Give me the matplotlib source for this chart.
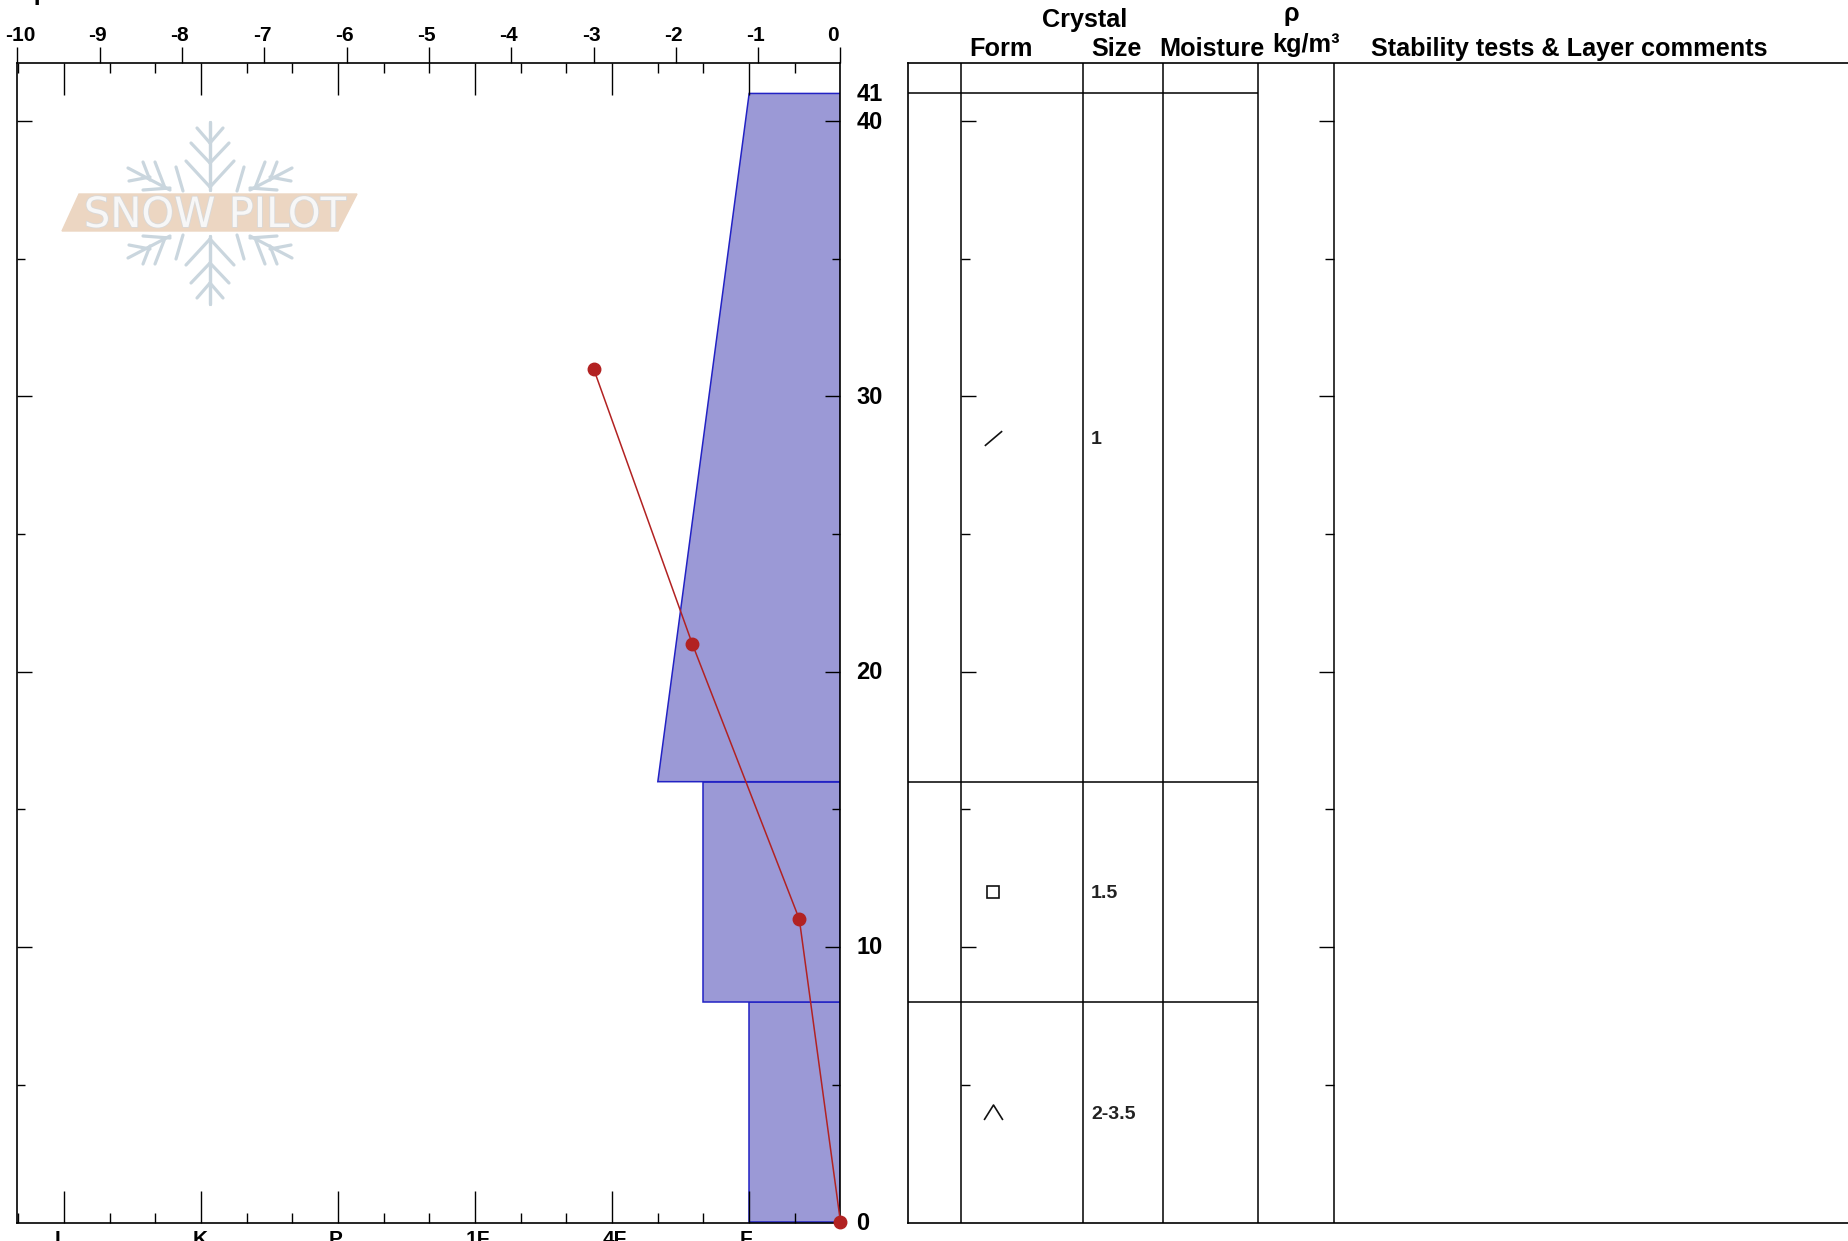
import matplotlib
matplotlib.use("Agg")
import matplotlib.pyplot as plt
import matplotlib.patheffects as pe
from matplotlib.path import Path
from matplotlib.transforms import ScaledTranslation

plt.rcParams['font.family'] = ['Liberation Sans', 'DejaVu Sans']

W, H = 1849, 1241

# temperature profile
temp_depth = [31, 21, 11, 0]
temp_vals = [-3.0, -1.8, -0.5, 0.0]

# layers, hardness positions count in thirds of a hand hardness step from the right edge
hard_pos = {'F': 2, 'F+': 3, '4F-': 4}
layer_bottom = [0, 8, 16]
layer_top = [8, 16, 41]
hard_bottom = ['F', 'F+', '4F-']
hard_top = ['F', 'F+', 'F']
sizes = ['2-3.5', '1.5', '1']
form_order = ['depth', 'square', 'facet']

temp_ticks = list(range(-10, 1))
hard_labels = ['I', 'K', 'P', '1F', '4F', 'F']
hard_major = [17, 14, 11, 8, 5, 2]
hard_minor = [18, 16, 15, 13, 12, 10, 9, 7, 6, 4, 3, 1]
depth_major = [10, 20, 30, 40]
depth_minor = [5, 15, 25, 35]
depth_labels = [0, 10, 20, 30, 40, 41]

left, right, top, bottom = 17.5, 840.5, 63, 1223
col_x = [961, 1083, 1163, 1258, 1334]
right_x0 = 908
px_cm = 27.53
ymin = -0.03
ymax = ymin + (bottom - top) / px_cm


def box(x0, x1):
    return [x0 / W, 1 - bottom / H, (x1 - x0) / W, (bottom - top) / H]


def shift_px(lab, dx):
    lab.set_transform(lab.get_transform() + ScaledTranslation(dx / 100, 0, fig.dpi_scale_trans))


fig = plt.figure(figsize=(W / 100, H / 100), dpi=100, facecolor='white')

# hardness axis holds the layer polygons, temperature axis sits on top of it
ax = fig.add_axes(box(left, right))
ax2 = ax.twiny()
ax2.set_zorder(1)
ax.set_zorder(2)
ax.patch.set_visible(False)

ax.set_xlim(-10, 0)
ax.set_ylim(ymin, ymax)
ax2.set_xlim((right - left) / 45.67, 0)

for i in range(len(layer_bottom)):
    xb = hard_pos[hard_bottom[i]]
    xt = hard_pos[hard_top[i]]
    ax2.fill([0, xb, xt, 0], [layer_bottom[i], layer_bottom[i], layer_top[i], layer_top[i]],
             facecolor='#9b99d6', edgecolor='#2222c4', linewidth=1.1, zorder=1)

ax.plot(temp_vals, temp_depth, color='#b22222', linewidth=1.1, marker='o', markersize=9,
        clip_on=False, zorder=5)

# temperature scale on top
ax.xaxis.tick_top()
ax.set_xticks(temp_ticks)
ax.set_xticklabels([str(t) for t in temp_ticks], fontsize=15, fontweight='bold')
ax.tick_params(axis='x', direction='out', length=11.2, width=1.0, pad=1.5)
temp_dx = [3, -2.5, -2.5, -2.5, -2.5, -2.5, -2.5, -2.5, -2.5, -2.5, -7.5]
for lab, dx in zip(ax.get_xticklabels(), temp_dx):
    shift_px(lab, dx)

# hardness scale, ticks inward at top and bottom
ax2.xaxis.set_ticks_position('both')
ax2.xaxis.set_label_position('bottom')
ax2.set_xticks(hard_major)
ax2.set_xticks(hard_minor, minor=True)
ax2.set_xticklabels(hard_labels, fontsize=15, fontweight='bold')
ax2.tick_params(axis='x', which='major', direction='in', length=23, width=1.0, pad=5,
                labelbottom=True, labeltop=False)
ax2.tick_params(axis='x', which='minor', direction='in', length=7.5, width=1.0)
hard_dx = [-7, -1, -2.5, 2.5, 2.5, -3.5]
for lab, dx in zip(ax2.get_xticklabels(), hard_dx):
    shift_px(lab, dx)

# depth ticks on both sides
ax.set_yticks(depth_major)
ax.set_yticks(depth_minor, minor=True)
ax.set_yticklabels([])
ax.yaxis.set_ticks_position('both')
ax.tick_params(axis='y', which='major', direction='in', length=10.5, width=1.0)
ax.tick_params(axis='y', which='minor', direction='in', length=6, width=1.0)
for d in depth_labels:
    ax.annotate(str(d), (1, d), xycoords=ax.get_yaxis_transform(), xytext=(11.5, -0.8),
                textcoords='offset points', va='center', ha='left', fontsize=17, fontweight='bold',
                annotation_clip=False)
for ss in ax.spines.values():
    ss.set_linewidth(1.2)
for ss in ax2.spines.values():
    ss.set_visible(False)

# layer table
axr = fig.add_axes(box(right_x0, W))
axr.set_xlim(right_x0, W)
axr.set_ylim(ymin, ymax)
axr.set_xticks([])
axr.set_yticks([])
axr.spines['right'].set_visible(False)
for ss in axr.spines.values():
    ss.set_linewidth(1.2)
for x in col_x:
    axr.axvline(x, color='black', linewidth=1.1)
axr.hlines(layer_bottom[1:] + [layer_top[-1]], right_x0, col_x[3], color='black', linewidth=1.1)
for x, sign in ((col_x[0], 1), (col_x[4], -1)):
    axr.hlines(depth_major, x, x + sign * 15, color='black', linewidth=1.0)
    axr.hlines(depth_minor, x, x + sign * 9, color='black', linewidth=1.0)

markers = {
    'facet': Path([(-1, -0.85), (1, 0.85)]),
    'square': 's',
    'depth': Path([(-1, -0.8), (0, 0.8), (1, -0.8)]),
}
marker_size = {'facet': 12.5, 'square': 8.5, 'depth': 13.5}
for i in range(len(layer_bottom)):
    mid = (layer_bottom[i] + layer_top[i]) / 2
    f = form_order[i]
    axr.plot([993.5], [mid], marker=markers[f], markersize=marker_size[f], markerfacecolor='none',
             markeredgecolor='#111111', markeredgewidth=1.2, linestyle='none')
    axr.annotate(sizes[i], (1091, mid), xytext=(0, -1.5), textcoords='offset points', fontsize=14,
                 fontweight='bold', va='center', ha='left', color='#222222')

# header text and watermark in pixel coordinates
ov = fig.add_axes([0, 0, 1, 1], zorder=0)
ov.set_xlim(0, W)
ov.set_ylim(H, 0)
ov.axis('off')

headers = [('Crystal', 1085, 20, 'center'), ('Form', 1001, 49, 'center'), ('Size', 1116.5, 49, 'center'),
           ('Moisture', 1212, 49, 'center'), ('\u03c1', 1291, 14, 'center'), ('kg/m\u00b3', 1306, 45, 'center'),
           ('Stability tests & Layer comments', 1371, 49, 'left')]
for txt, x, y, ha in headers:
    ov.text(x, y, txt, fontsize=18.2, fontweight='bold', ha=ha, va='center')
# axis title cut off by the top edge
ov.text(37, 5, 'T', fontsize=17, fontweight='bold', ha='center', va='baseline')

# logo
flake = '#cad6de'
quad = [((210, 122), (210, 190)), ((197, 128), (210, 143)), ((191, 143), (210, 163)), ((186, 161), (210, 187)),
        ((128, 168), (170, 190)), ((143, 162), (150, 180)), ((155, 162), (165, 188)), ((129, 181), (150, 177)),
        ((143, 190), (170, 188)), ((176, 167), (183, 191))]
for (x0, y0), (x1, y1) in quad:
    for sx in (1, -1):
        for sy in (1, -1):
            ov.plot([210 + sx * (x0 - 210), 210 + sx * (x1 - 210)], [213 + sy * (y0 - 213), 213 + sy * (y1 - 213)],
                    color=flake, linewidth=2.3, solid_capstyle='round')
ov.fill([79, 357, 338, 62], [194, 194, 231, 231], color='#ecd6c2', zorder=3)
ov.text(215, 215, 'SNOW PILOT', fontsize=30, family='DejaVu Sans', ha='center', va='center', color='#f7f7f7',
        zorder=4, path_effects=[pe.withStroke(linewidth=1.2, foreground='#d9d9d9')])

fig.savefig('out.png', dpi=100)
